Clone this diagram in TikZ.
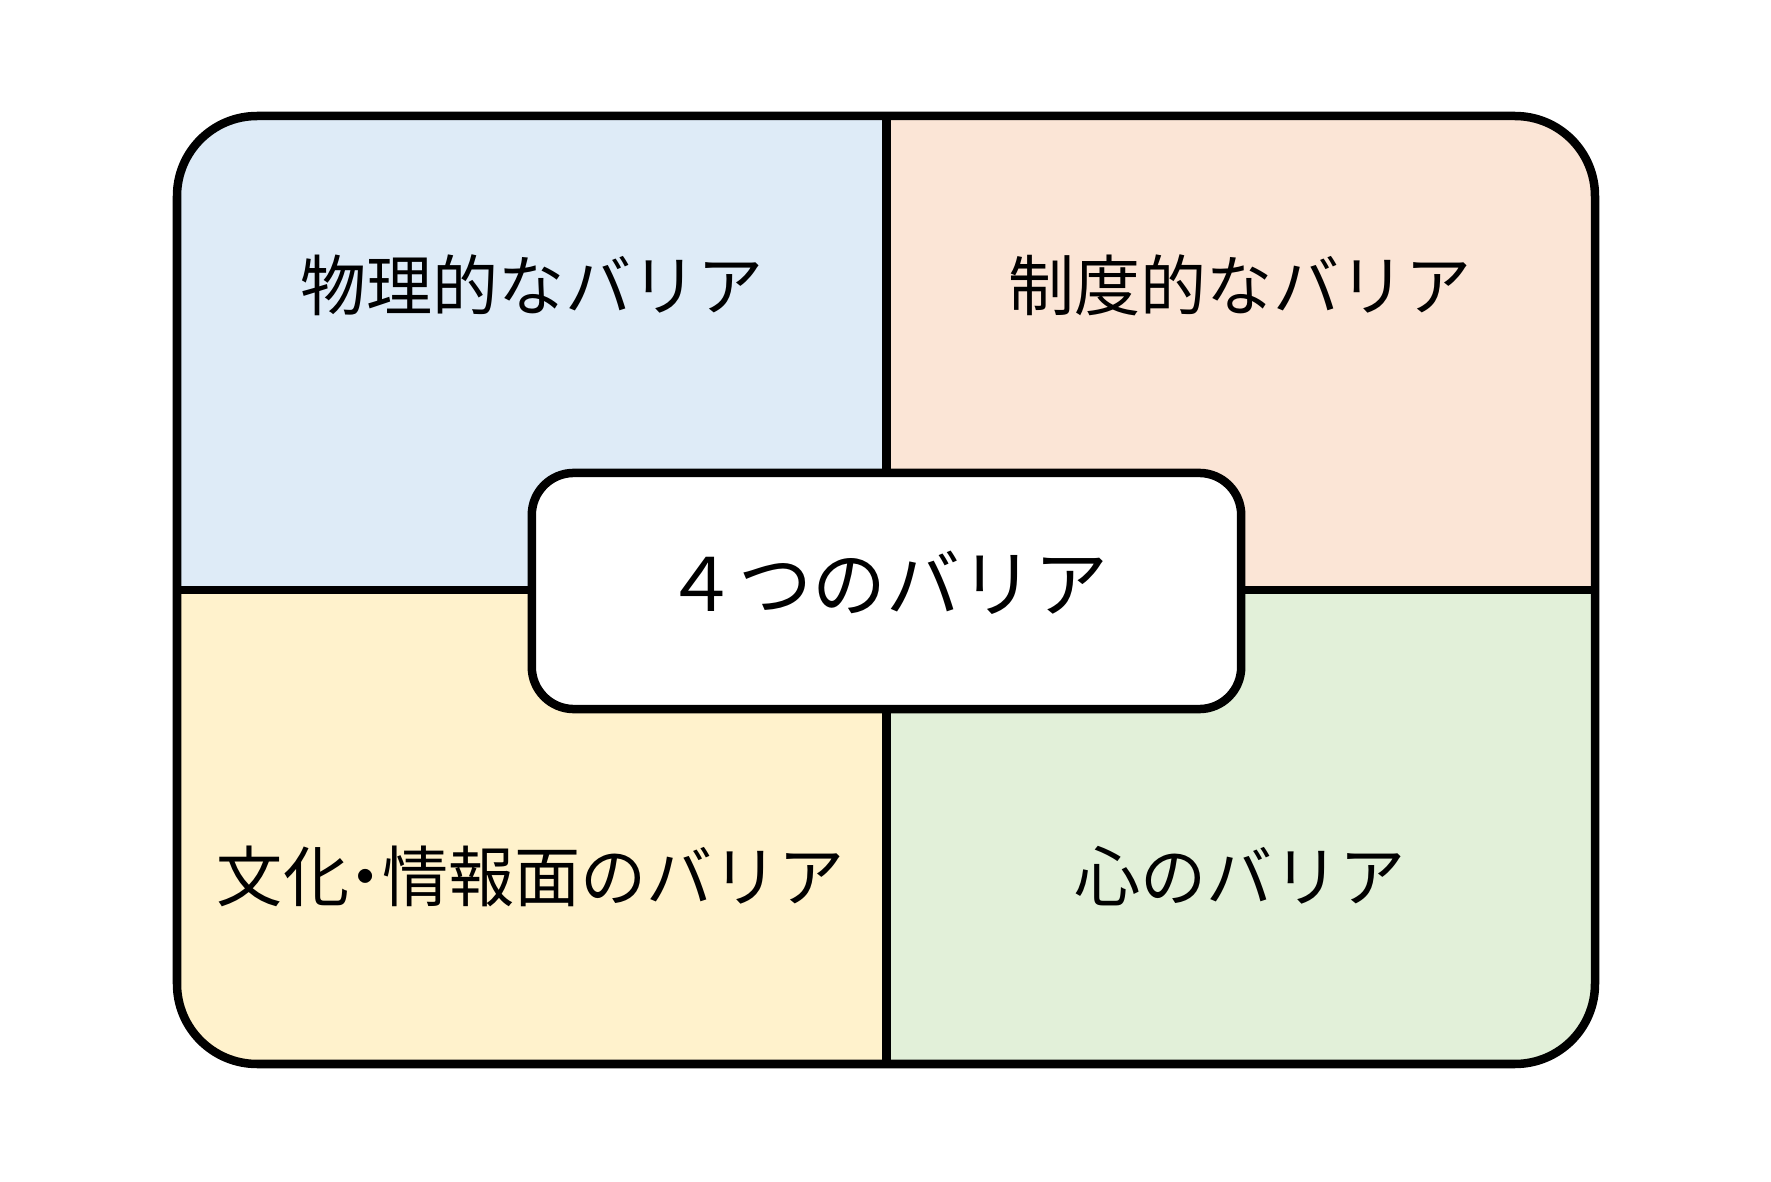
\documentclass[tikz,border=0pt]{standalone}
\usepackage{fontspec}
\newfontfamily\jpfont{Noto Sans CJK JP}
\definecolor{physblue}{HTML}{DEEBF7}
\definecolor{ruleorange}{HTML}{FBE5D6}
\definecolor{infoyellow}{HTML}{FFF2CC}
\definecolor{mindgreen}{HTML}{E2F0D9}
\newcommand{\halfdot}{\kern-0.25em・\kern-0.25em}

\tikzset{
  barrier/.style={font=\jpfont\fontsize{18.8}{22}\selectfont, inner sep=0pt},
  thickline/.style={black, line width=0.085cm},
  centerbox/.style={draw, thickline, fill=white, rounded corners=0.42cm,
    minimum width=7.09cm, minimum height=2.36cm, inner sep=0pt,
    text height=0.55cm, text depth=0.15cm,
    font=\jpfont\fontsize{21}{25}\selectfont}
}

\begin{document}
\begin{tikzpicture}[x=0.01cm,y=-0.01cm]
\useasboundingbox (0,0) rectangle (1771,1182);
% quadrants
\begin{scope}
\clip[rounded corners=0.8cm] (177,116) rectangle (1595,1064);
\fill[physblue] (177,116) rectangle (886.5,590);
\fill[ruleorange] (886.5,116) rectangle (1595,590);
\fill[infoyellow] (177,590) rectangle (886.5,1064);
\fill[mindgreen] (886.5,590) rectangle (1595,1064);
\end{scope}
\draw[thickline] (886.5,116) -- (886.5,1064);
\draw[thickline] (177,590) -- (1595,590);
\draw[thickline, rounded corners=0.8cm] (177,116) rectangle (1595,1064);
% labels
\node[barrier] (physical) at (532,285) {物理的なバリア};
\node[barrier] (system) at (1240,285) {制度的なバリア};
\node[barrier] (culture) at (531,876) {文化\halfdot 情報面のバリア};
\node[barrier] (mind) at (1240,876) {心のバリア};
\node[centerbox] (four) at (886.5,591) {４つのバリア};
\end{tikzpicture}
\end{document}
